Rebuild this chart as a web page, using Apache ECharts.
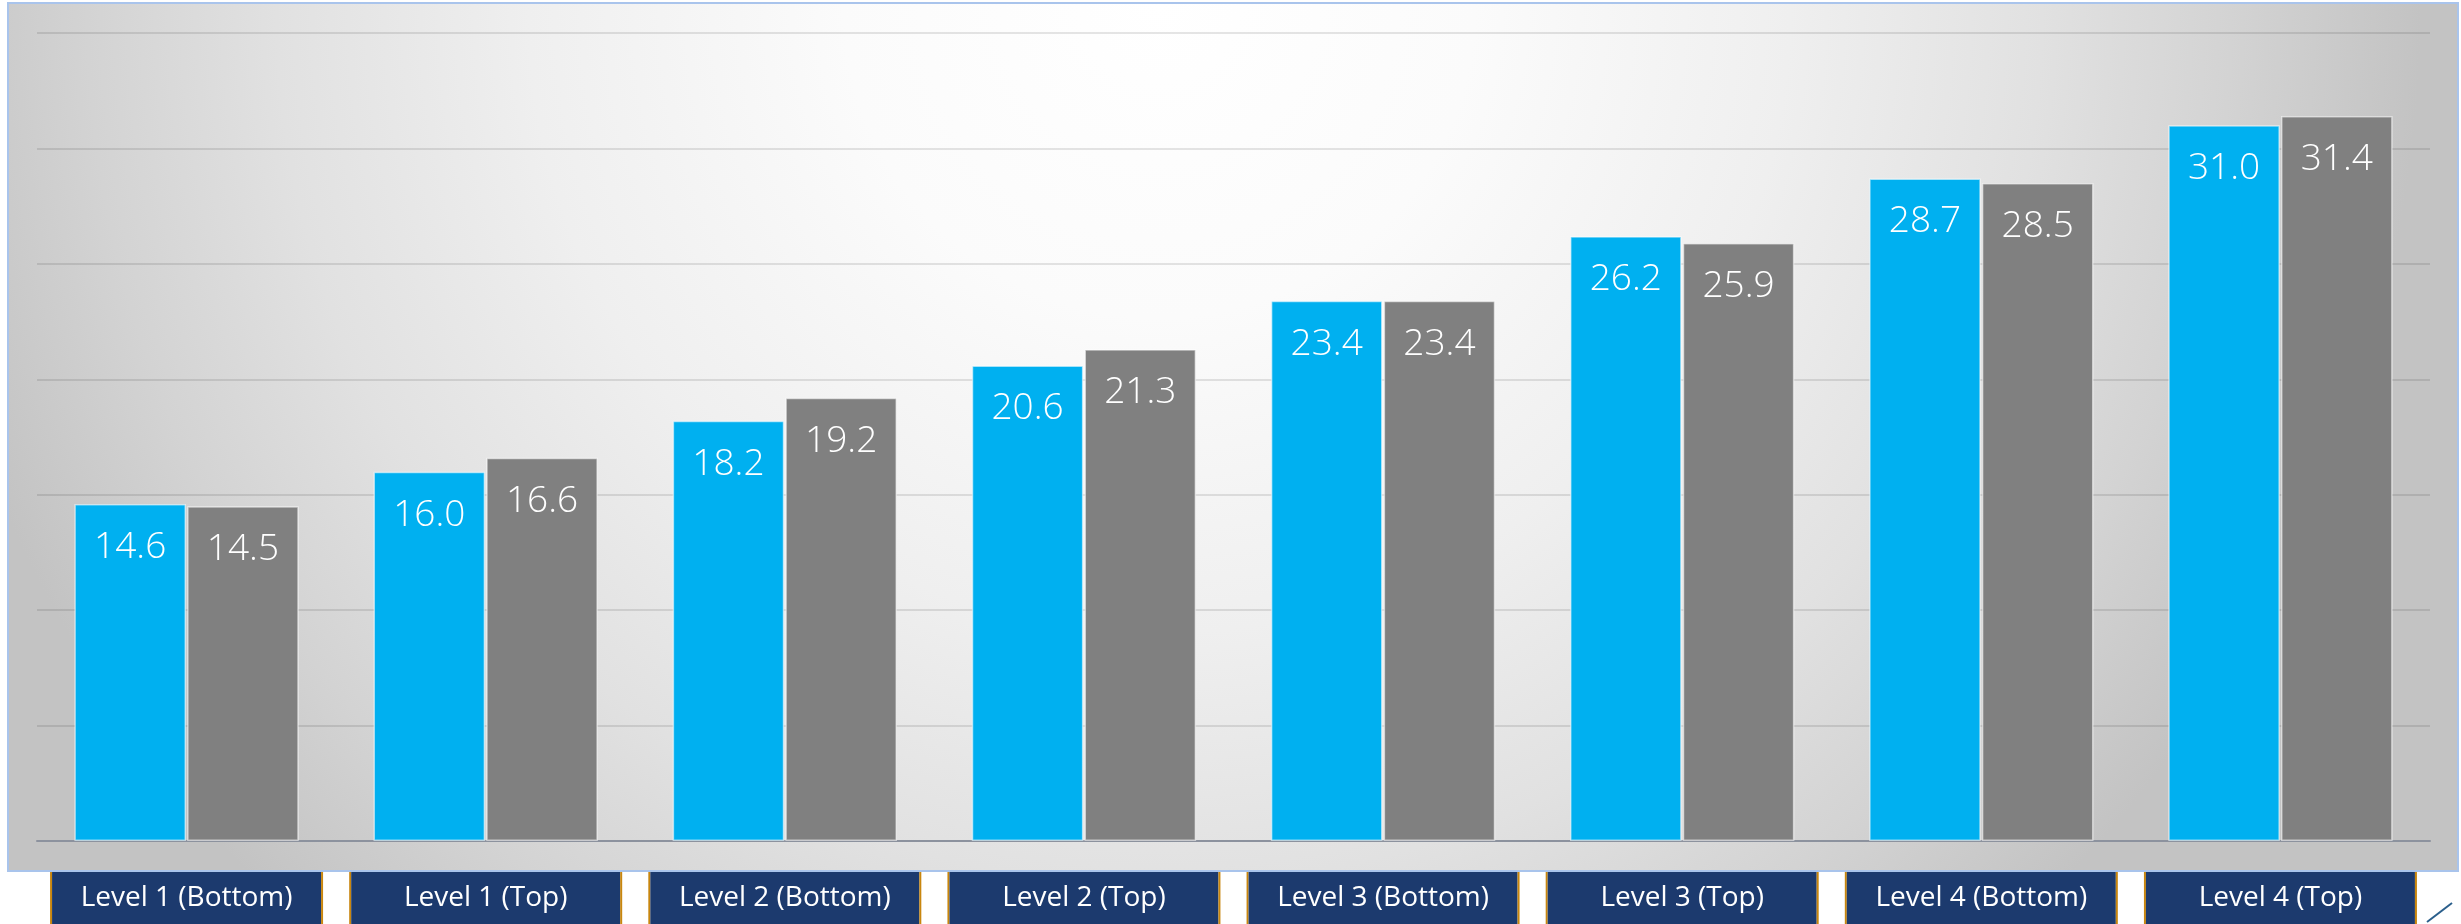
<!DOCTYPE html>
<html>
<head>
<meta charset="utf-8">
<script src="https://cdn.jsdelivr.net/npm/echarts@6/dist/echarts.min.js"></script>
<style>
  html, body { margin: 0; padding: 0; background: #ffffff; }
  #chart { width: 2461px; height: 924px; }
</style>
</head>
<body>
<div id="chart"></div>
<script>
// ---- data ----
const categories = ['Level 1 (Bottom)', 'Level 1 (Top)', 'Level 2 (Bottom)', 'Level 2 (Top)',
                    'Level 3 (Bottom)', 'Level 3 (Top)', 'Level 4 (Bottom)', 'Level 4 (Top)'];
const seriesBlue = [14.6, 16.0, 18.2, 20.6, 23.4, 26.2, 28.7, 31.0];
const seriesGray = [14.5, 16.6, 19.2, 21.3, 23.4, 25.9, 28.5, 31.4];
const yMin = 0, yMax = 35, yStep = 5;

const chart = echarts.init(document.getElementById('chart'), null, { renderer: 'canvas' });

const valueLabel = {
  show: true,
  position: 'insideTop',
  distance: 25,
  color: '#ffffff',
  fontFamily: 'Open Sans',
  fontWeight: 300,
  fontSize: 37,
  formatter: p => p.value.toFixed(1)
};

chart.setOption({
  animation: false,
  graphic: [
    {
      type: 'rect',
      z: -10,
      silent: true,
      shape: { x: 8, y: 3, width: 2450, height: 868 },
      style: {
        fill: {
          type: 'radial', x: 0.47, y: 0.0, r: 1.45,
          colorStops: [
            { offset: 0, color: '#ffffff' },
            { offset: 0.25, color: '#fbfbfb' },
            { offset: 0.5, color: '#efefef' },
            { offset: 0.7, color: '#e1e1e1' },
            { offset: 0.85, color: '#d3d3d3' },
            { offset: 1, color: '#c3c3c3' }
          ]
        },
        stroke: '#a9c4ec',
        lineWidth: 2
      }
    },
    {
      type: 'line',
      z: -10,
      silent: true,
      shape: { x1: 2427, y1: 922, x2: 2452, y2: 903 },
      style: { stroke: '#2b5f8c', lineWidth: 2 }
    }
  ],
  grid: { left: 37, right: 31, top: 33, bottom: 82, containLabel: false },
  xAxis: {
    type: 'category',
    data: categories,
    axisLine: { show: true, lineStyle: { color: '#8c929e', width: 2 } },
    axisTick: { show: false },
    axisLabel: {
      interval: 0,
      margin: 31,
      formatter: v => '{o| }{n|' + v + '}{o| }',
      rich: {
        o: { backgroundColor: '#c8860e', width: 2, height: 52, fontSize: 28 },
        n: {
          backgroundColor: '#1c3a6e', width: 269, height: 52, align: 'center',
          color: '#ffffff', fontFamily: 'Open Sans', fontSize: 28
        }
      }
    }
  },
  yAxis: {
    type: 'value',
    min: yMin, max: yMax, interval: yStep,
    axisLine: { show: false },
    axisTick: { show: false },
    axisLabel: { show: false },
    splitLine: { show: true, lineStyle: { color: 'rgba(0,0,0,0.10)', width: 2 } }
  },
  series: [
    {
      name: 'Blue', type: 'bar', data: seriesBlue,
      barCategoryGap: '25%', barGap: '1%',
      itemStyle: { color: '#00b0f0', borderColor: 'rgba(255,255,255,0.55)', borderWidth: 1.5 },
      label: valueLabel
    },
    {
      name: 'Gray', type: 'bar', data: seriesGray,
      barCategoryGap: '25%', barGap: '1%',
      itemStyle: { color: '#808080', borderColor: 'rgba(255,255,255,0.55)', borderWidth: 1.5 },
      label: valueLabel
    }
  ]
});
</script>
</body>
</html>
